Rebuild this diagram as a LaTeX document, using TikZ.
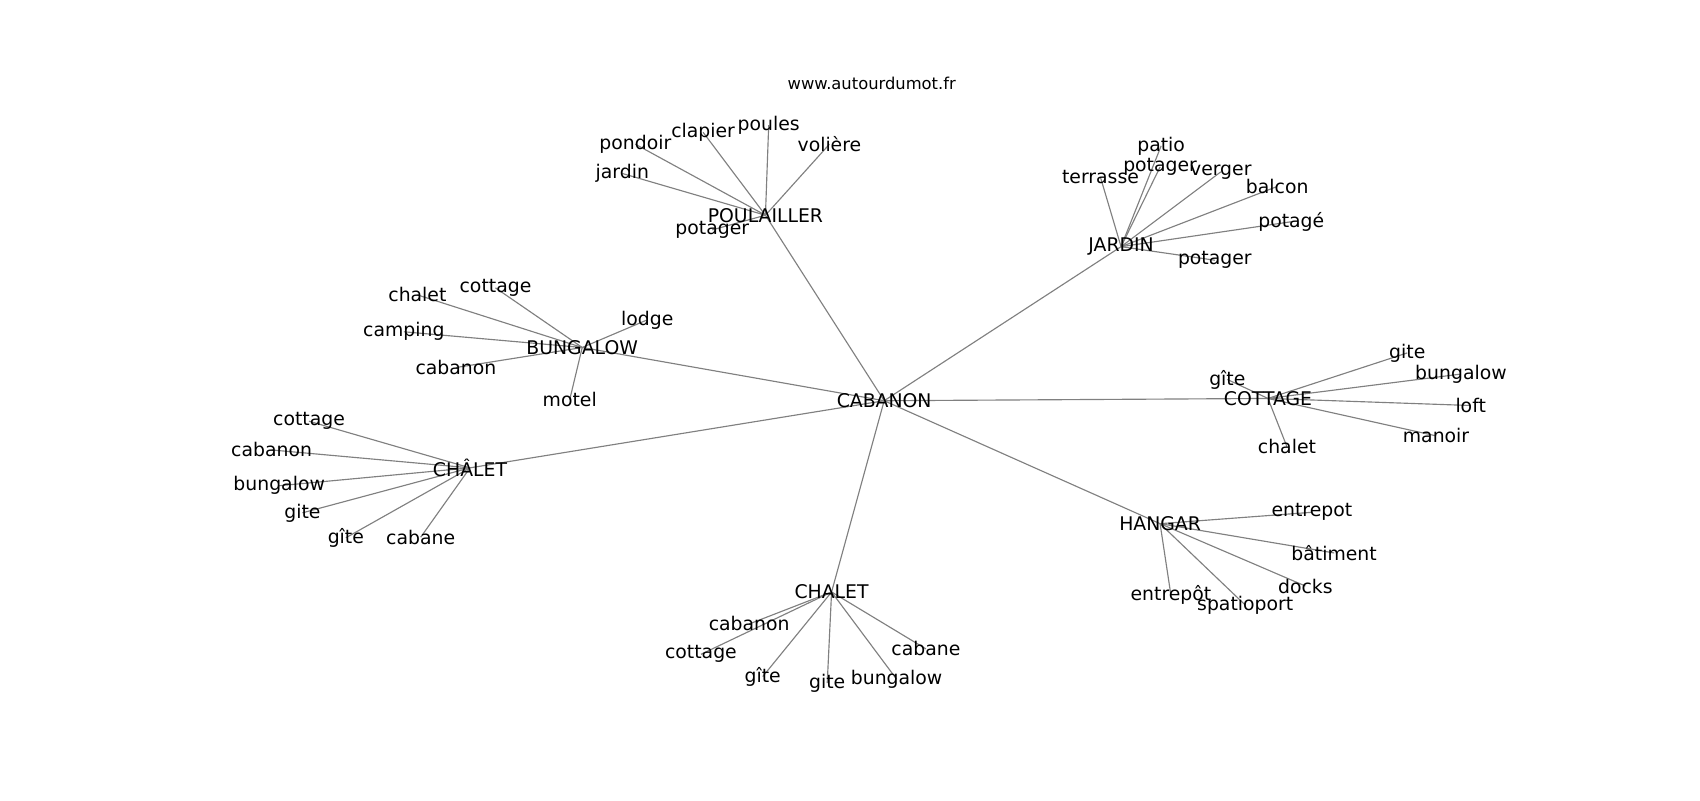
\documentclass[tikz,border=0pt]{standalone}
\usepackage{fontspec}
\setmainfont{DejaVu Sans}
\usetikzlibrary{backgrounds}
\tikzset{word/.style = {font=\fontsize{4.94}{6}\selectfont, inner sep=0pt},
         site/.style = {font=\fontsize{4.29}{5}\selectfont, inner sep=0pt},
         link/.style = {draw=gray, line width=0.3pt}}

\begin{document}
\begin{tikzpicture}
    \useasboundingbox (0, 0) rectangle (15.68, -7.38);
    \node [site] (url) at (8.04, -0.766) {www.autourdumot.fr};

    \node [word] (cabanon) at (8.155, -3.696) {CABANON};

    % POULAILLER
    \node [word] (poulailler) at (7.06, -1.985) {POULAILLER};
    \node [word] (p-jardin) at (5.74, -1.60) {jardin};
    \node [word] (p-pondoir) at (5.86, -1.33) {pondoir};
    \node [word] (p-clapier) at (6.485, -1.22) {clapier};
    \node [word] (p-poules) at (7.09, -1.155) {poules};
    \node [word] (p-voliere) at (7.65, -1.33) {volière};
    \node [word] (p-potager) at (6.57, -2.12) {potager};

    % JARDIN
    \node [word] (jardin) at (10.34, -2.275) {JARDIN};
    \node [word] (j-patio) at (10.71, -1.345) {patio};
    \node [word] (j-potager) at (10.70, -1.54) {potager};
    \node [word] (j-terrasse) at (10.15, -1.635) {terrasse};
    \node [word] (j-verger) at (11.26, -1.585) {verger};
    \node [word] (j-balcon) at (11.78, -1.72) {balcon};
    \node [word] (j-potage) at (11.91, -2.045) {potagé};
    \node [word] (j-potagerb) at (11.205, -2.40) {potager};

    % BUNGALOW
    \node [word] (bungalow) at (5.37, -3.205) {BUNGALOW};
    \node [word] (b-chalet) at (3.85, -2.72) {chalet};
    \node [word] (b-cottage) at (4.57, -2.655) {cottage};
    \node [word] (b-camping) at (3.725, -3.06) {camping};
    \node [word] (b-cabanon) at (4.205, -3.39) {cabanon};
    \node [word] (b-motel) at (5.255, -3.685) {motel};
    \node [word] (b-lodge) at (5.97, -2.95) {lodge};

    % CHÂLET
    \node [word] (chaleth) at (4.335, -4.315) {CHÂLET};
    \node [word] (c-cottage) at (2.85, -3.885) {cottage};
    \node [word] (c-cabanon) at (2.505, -4.15) {cabanon};
    \node [word] (c-bungalow) at (2.575, -4.48) {bungalow};
    \node [word] (c-gite) at (2.79, -4.73) {gite};
    \node [word] (c-gitec) at (3.19, -4.96) {gîte};
    \node [word] (c-cabane) at (3.88, -4.955) {cabane};

    % COTTAGE
    \node [word] (cottage) at (11.695, -3.675) {COTTAGE};
    \node [word] (t-gitec) at (11.32, -3.50) {gîte};
    \node [word] (t-gite) at (12.98, -3.255) {gite};
    \node [word] (t-bungalow) at (13.475, -3.45) {bungalow};
    \node [word] (t-loft) at (13.565, -3.74) {loft};
    \node [word] (t-manoir) at (13.245, -4.02) {manoir};
    \node [word] (t-chalet) at (11.87, -4.12) {chalet};

    % HANGAR
    \node [word] (hangar) at (10.70, -4.83) {HANGAR};
    \node [word] (h-entrepot) at (12.10, -4.725) {entrepot};
    \node [word] (h-batiment) at (12.305, -5.10) {bâtiment};
    \node [word] (h-docks) at (12.04, -5.405) {docks};
    \node [word] (h-spatioport) at (11.485, -5.58) {spatioport};
    \node [word] (h-entrepotc) at (10.80, -5.49) {entrepôt};

    % CHALET
    \node [word] (chalet) at (7.67, -5.46) {CHALET};
    \node [word] (l-cabanon) at (6.91, -5.755) {cabanon};
    \node [word] (l-cottage) at (6.465, -6.035) {cottage};
    \node [word] (l-gitec) at (7.035, -6.24) {gîte};
    \node [word] (l-gite) at (7.63, -6.30) {gite};
    \node [word] (l-bungalow) at (8.27, -6.265) {bungalow};
    \node [word] (l-cabane) at (8.54, -5.985) {cabane};

    \begin{scope}[on background layer]
      \foreach \hub in {poulailler, jardin, bungalow, chaleth, cottage, hangar, chalet}
        \draw [link] (cabanon.center) -- (\hub.center);
      \foreach \leaf in {jardin, pondoir, clapier, poules, voliere, potager}
        \draw [link] (poulailler.center) -- (p-\leaf.center);
      \foreach \leaf in {patio, potager, terrasse, verger, balcon, potage, potagerb}
        \draw [link] (jardin.center) -- (j-\leaf.center);
      \foreach \leaf in {chalet, cottage, camping, cabanon, motel, lodge}
        \draw [link] (bungalow.center) -- (b-\leaf.center);
      \foreach \leaf in {cottage, cabanon, bungalow, gite, gitec, cabane}
        \draw [link] (chaleth.center) -- (c-\leaf.center);
      \foreach \leaf in {gitec, gite, bungalow, loft, manoir, chalet}
        \draw [link] (cottage.center) -- (t-\leaf.center);
      \foreach \leaf in {entrepot, batiment, docks, spatioport, entrepotc}
        \draw [link] (hangar.center) -- (h-\leaf.center);
      \foreach \leaf in {cabanon, cottage, gitec, gite, bungalow, cabane}
        \draw [link] (chalet.center) -- (l-\leaf.center);
    \end{scope}
\end{tikzpicture}
\end{document}
